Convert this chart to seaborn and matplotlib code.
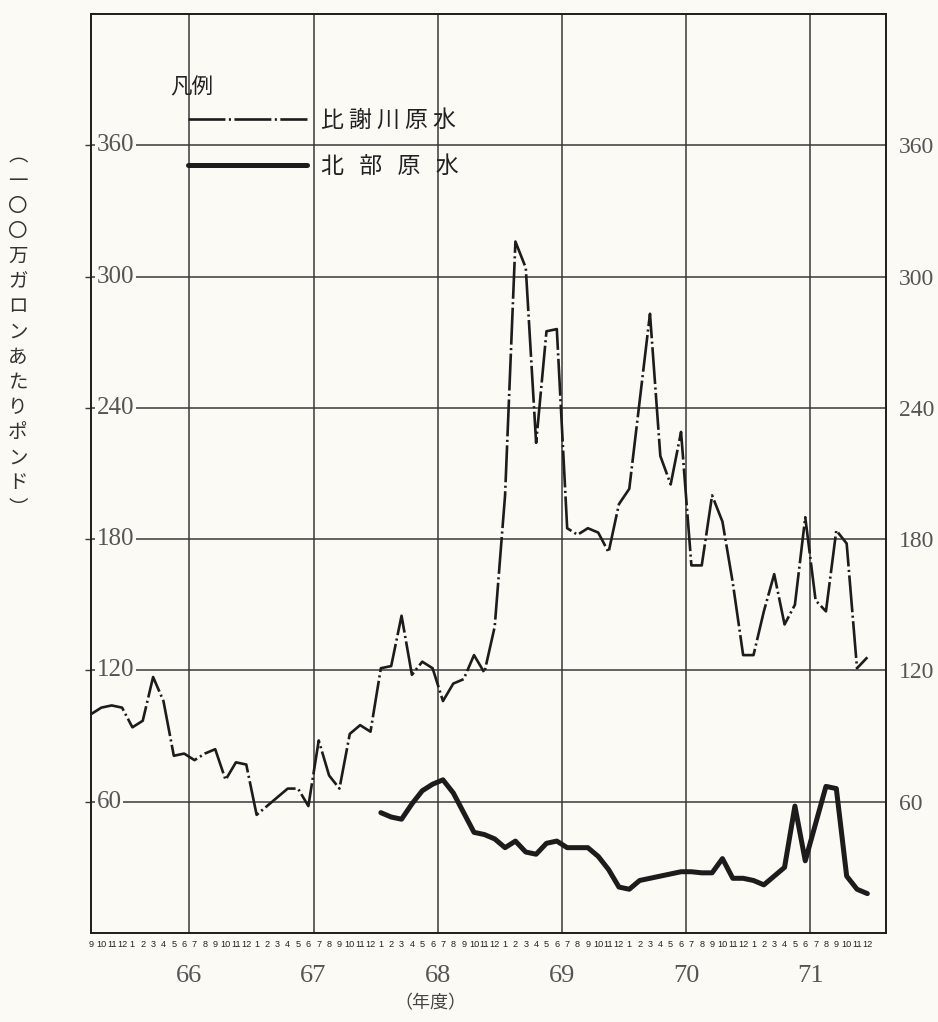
import numpy as np
import pandas as pd
import matplotlib
matplotlib.use("Agg")
import matplotlib.pyplot as plt
import matplotlib.transforms as mtransforms
from matplotlib import font_manager
from matplotlib.lines import Line2D
import seaborn as sns

# 月ラベル (1965年9月 〜 1971年12月)
month_numbers = [9, 10, 11, 12] + list(range(1, 13)) * 6
year_labels = ["66", "67", "68", "69", "70", "71"]
y_ticks = [60, 120, 180, 240, 300, 360]

# 比謝川原水 (100万ガロンあたりポンド)
hijagawa = [100, 103, 104, 103, 94, 97, 117, 106, 81, 82,
            79, 82, 84, 70, 78, 77, 54, 58, 62, 66,
            66, 58, 88, 72, 66, 91, 95, 92, 121, 122,
            145, 118, 124, 121, 106, 114, 116, 127, 119, 140,
            200, 316, 304, 224, 275, 276, 185, 182, 185, 183,
            174, 196, 203, 243, 283, 218, 205, 229, 168, 168,
            200, 188, 160, 127, 127, 147, 164, 141, 150, 190,
            152, 147, 184, 178, 121, 126]

# 北部原水 (1968年1月から)
hokubu = [np.nan] * 28 + [55, 53, 52, 59, 65, 68, 70, 64, 55, 46,
                          45, 43, 39, 42, 37, 36, 41, 42, 39, 39,
                          39, 35, 29, 21, 20, 24, 25, 26, 27, 28,
                          28, 27.5, 27.5, 34, 25, 25, 24, 22, 26, 30,
                          58, 33, 50, 67, 66, 26, 20, 18]

sns.set_theme(style="white")
plt.rcParams["font.family"] = ["Noto Sans CJK JP", "DejaVu Sans"]

bg = "#fbfaf4"
ink = "#1c1c1c"
grid_c = "#3a3a3a"
serif = ["Liberation Serif", "DejaVu Serif"]

# 月の数字は幅の狭いフォントで (無ければ小さめに)
installed = {f.name for f in font_manager.fontManager.ttflist}
if "Liberation Sans Narrow" in installed:
    month_font, month_size = "Liberation Sans Narrow", 7.6
else:
    month_font, month_size = "Liberation Sans", 6.6

df = pd.DataFrame({"month": range(len(month_numbers)),
                   "比謝川原水": hijagawa,
                   "北部原水": hokubu})

fig = plt.figure(figsize=(9.38, 10.22), dpi=100, facecolor=bg)
ax = fig.add_axes([91 / 938, 1 - 933 / 1022, 795 / 938, 919 / 1022])
ax.set_facecolor(bg)

dashdot = (0, (14, 1.3, 0.8, 1.3))
sns.lineplot(data=df, x="month", y="比謝川原水", ax=ax, color=ink,
             lw=1.9, linestyle=dashdot, zorder=3)
sns.lineplot(data=df, x="month", y="北部原水", ax=ax, color=ink,
             lw=3.6, zorder=3)

ax.set_xlim(0, 76.8)
ax.set_ylim(0, 420)
ax.set_xlabel("")
ax.set_ylabel("")

# 月目盛り
ax.set_xticks(range(len(month_numbers)))
ax.set_xticklabels(month_numbers, family=month_font, fontsize=month_size, color="#222222")
# 年度の区切り
ax.set_xticks([9.5 + 12 * k for k in range(6)], minor=True)
ax.set_xticklabels(year_labels, minor=True, family=serif, fontsize=19, color="#555555")
ax.tick_params(axis="x", which="major", length=0, pad=5)
ax.tick_params(axis="x", which="minor", length=0, pad=23)
ax.grid(which="minor", axis="x", color=grid_c, lw=1.1)
ax.grid(which="major", axis="x", visible=False)

ax.set_yticks(y_ticks)
ax.set_yticklabels([str(v) for v in y_ticks], family=serif, fontsize=17, color="#555555")
ax.tick_params(axis="y", left=True, right=False, labelleft=False, labelright=True,
               length=4, width=1, color=grid_c, direction="out", pad=5)
ax.grid(which="major", axis="y", color=grid_c, lw=1.1)

trans = mtransforms.blended_transform_factory(ax.transAxes, ax.transData)
for v in y_ticks:
    ax.text(0.007, v, str(v), transform=trans, ha="left", va="center",
            family=serif, fontsize=18, color="#555555", zorder=2.5,
            bbox=dict(fc=bg, ec="none", pad=1))

for s in ax.spines.values():
    s.set_visible(True)
    s.set_color(ink)
    s.set_linewidth(1.4)

# 凡例
fig.text(170 / 938, 1 - 87 / 1022, "凡例", ha="left", va="center",
         fontsize=15.5, color="#222222")
handles = [Line2D([], [], color=ink, lw=1.9, linestyle=dashdot),
           Line2D([], [], color=ink, lw=3.6)]
leg = ax.legend(handles, ["比 謝 川 原 水", "北   部   原   水"],
                frameon=False, loc="upper left",
                bbox_to_anchor=(188 / 938, 1 - 109 / 1022),
                bbox_transform=fig.transFigure, fontsize=16.5,
                borderaxespad=0, borderpad=0,
                handlelength=5.2, handletextpad=0.6, labelspacing=1.0)
for t in leg.get_texts():
    t.set_color("#222222")

ylabel_chars = ["︵", "一", "〇", "〇", "万", "ガ", "ロ", "ン", "あ", "た", "り",
                "ポ", "ン", "ド", "︶"]
fig.text(18 / 938, 1 - 332 / 1022, "\n".join(ylabel_chars), ha="center", va="center",
         fontsize=14, linespacing=1.26, color="#333333")

fig.text(430 / 938, 1 - 1003 / 1022, "（年度）", ha="center", va="center",
         fontsize=13, color="#444444")

fig.savefig("out.png", dpi=100, facecolor=bg)
